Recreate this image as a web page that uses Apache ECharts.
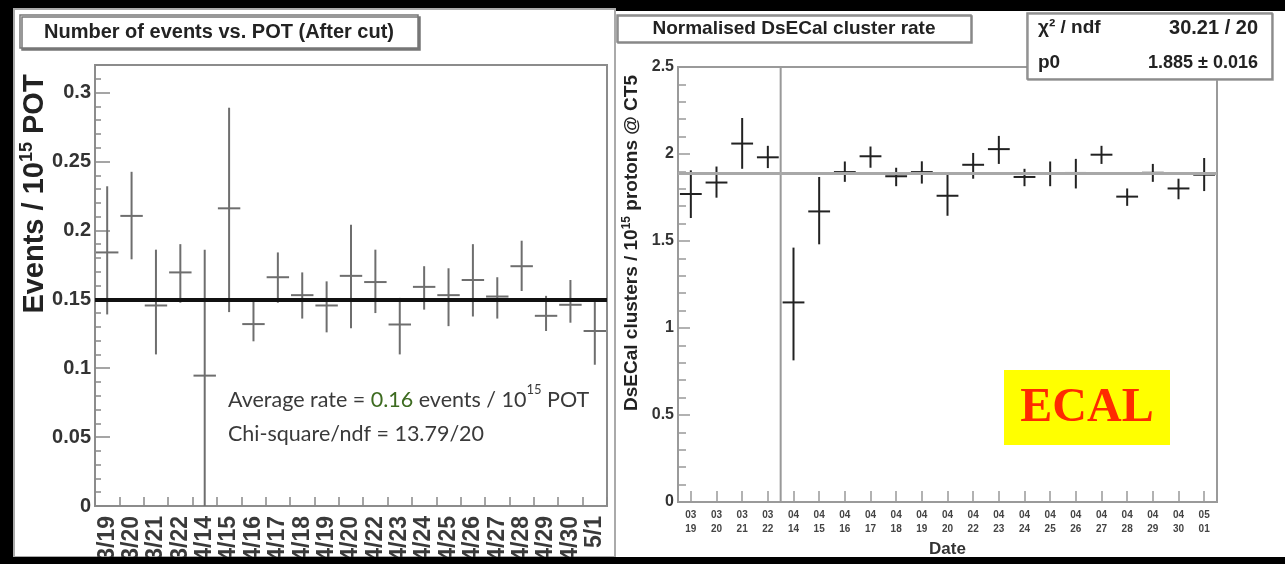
<!DOCTYPE html>
<html>
<head>
<meta charset="utf-8">
<script src="https://cdn.jsdelivr.net/npm/echarts@6.0.0/dist/echarts.min.js"></script>
<style>
  html, body { margin: 0; padding: 0; background: #000; }
  #chart { width: 1285px; height: 564px; }
</style>
</head>
<body>
<div id="chart"></div>
<script>
// Left panel: number of events per 10^15 POT, after cut
const leftDates = ['3/19', '3/20', '3/21', '3/22', '4/14', '4/15', '4/16', '4/17', '4/18', '4/19', '4/20',
  '4/22', '4/23', '4/24', '4/25', '4/26', '4/27', '4/28', '4/29', '4/30', '5/1']
const leftRate = [0.184, 0.2105, 0.1455, 0.1695, 0.0946, 0.216, 0.132, 0.166, 0.153, 0.1455, 0.167,
  0.1625, 0.1317, 0.159, 0.153, 0.164, 0.152, 0.174, 0.138, 0.146, 0.127]
const leftLow = [0.139, 0.179, 0.110, 0.1475, 0, 0.1407, 0.1195, 0.1475, 0.136, 0.126, 0.129,
  0.140, 0.110, 0.1425, 0.1305, 0.1375, 0.136, 0.156, 0.127, 0.133, 0.1025]
const leftHigh = [0.232, 0.2425, 0.186, 0.190, 0.186, 0.289, 0.149, 0.184, 0.1695, 0.163, 0.204,
  0.186, 0.151, 0.174, 0.1725, 0.190, 0.166, 0.1925, 0.1525, 0.164, 0.148]
const leftFit = 0.154
const leftYTicks = [0, 0.05, 0.1, 0.15, 0.2, 0.25, 0.3]

// Right panel: normalised DsECal cluster rate
const rightDates = ['03\n19', '03\n20', '03\n21', '03\n22', '04\n14', '04\n15', '04\n16', '04\n17', '04\n18',
  '04\n19', '04\n20', '04\n22', '04\n23', '04\n24', '04\n25', '04\n26', '04\n27', '04\n28', '04\n29',
  '04\n30', '05\n01']
const rightRate = [1.770, 1.836, 2.060, 1.981, 1.147, 1.670, 1.896, 1.987, 1.872, 1.896, 1.760,
  1.938, 2.028, 1.868, 1.887, 1.891, 1.996, 1.755, 1.892, 1.802, 1.881]
const rightLow = [1.632, 1.749, 1.915, 1.919, 0.814, 1.481, 1.840, 1.921, 1.815, 1.830, 1.645,
  1.858, 1.943, 1.815, 1.815, 1.802, 1.943, 1.702, 1.840, 1.740, 1.787]
const rightHigh = [1.906, 1.928, 2.207, 2.047, 1.462, 1.868, 1.957, 2.043, 1.921, 1.958, 1.883,
  2.006, 2.104, 1.915, 1.957, 1.972, 2.047, 1.802, 1.943, 1.858, 1.977]
const rightFit = 1.885
const rightYMax = 2.5

const chart = echarts.init( document.getElementById( 'chart' ) )

// cross = horizontal bin bar at the value + vertical error bar
const errorCross = ( color, width, frac ) => ( params, api ) => {
  const x = api.value( 0 )
  const c = api.coord( [x, api.value( 1 )] )
  const lo = api.coord( [x, api.value( 2 )] )
  const hi = api.coord( [x, api.value( 3 )] )
  const half = api.size( [1, 0] )[0] * frac / 2
  const style = { stroke : color, lineWidth : width }
  return {
    type : 'group',
    children : [
      { type : 'line', shape : { x1 : c[0] - half, y1 : c[1], x2 : c[0] + half, y2 : c[1] }, style },
      { type : 'line', shape : { x1 : lo[0], y1 : lo[1], x2 : hi[0], y2 : hi[1] }, style }
    ]
  }
}

const leftData = leftDates.map( ( d, i ) => [i, leftRate[i], leftLow[i], leftHigh[i]] )
const rightData = rightDates.map( ( d, i ) => [i, rightRate[i], rightLow[i], rightHigh[i]] )
const gapBin = rightDates.findIndex( d => d.startsWith( '04' ) )

const boldFont = 'Liberation Sans, Arial, sans-serif'

chart.setOption( {
  backgroundColor : '#000',
  animation : false,
  grid : [
    { left : 95, top : 65, width : 512, height : 441, show : true, backgroundColor : '#fff', borderColor : '#8c8c8c', borderWidth : 2 },
    { left : 678, top : 67, width : 539, height : 435, show : true, backgroundColor : '#fff', borderColor : '#9a9a9a', borderWidth : 2 }
  ],
  xAxis : [
    {
      gridIndex : 0,
      type : 'category',
      data : leftDates,
      boundaryGap : true,
      axisLine : { show : false },
      axisTick : { show : true, inside : true, length : 9, interval : 0, lineStyle : { color : '#888', width : 1.5 } },
      axisLabel : {
        interval : 0, rotate : 90, margin : 10,
        fontFamily : boldFont, fontWeight : 'bold', fontSize : 23, color : '#3a3a3a'
      },
      splitLine : { show : false }
    },
    {
      gridIndex : 1,
      type : 'category',
      data : rightDates,
      boundaryGap : true,
      name : 'Date',
      nameLocation : 'middle',
      nameGap : 34,
      nameTextStyle : { fontFamily : boldFont, fontWeight : 'bold', fontSize : 17, color : '#333' },
      axisLine : { show : false },
      axisTick : { show : true, inside : true, alignWithLabel : true, interval : 0, length : 11, lineStyle : { color : '#999', width : 1.5 } },
      axisLabel : {
        interval : 0, margin : 6, lineHeight : 14,
        fontFamily : boldFont, fontWeight : 'bold', fontSize : 10, color : '#444'
      },
      splitLine : { show : false }
    },
    { gridIndex : 1, type : 'value', min : 0, max : rightDates.length, show : false }
  ],
  yAxis : [
    {
      gridIndex : 0,
      type : 'value',
      min : 0,
      max : 0.32,
      interval : 0.05,
      axisLine : { show : false },
      axisTick : { show : true, inside : true, length : 15, lineStyle : { color : '#888', width : 1.5 } },
      minorTick : { show : true, splitNumber : 5, length : 6, lineStyle : { color : '#888', width : 1.5 } },
      splitLine : { show : false },
      axisLabel : {
        margin : 4,
        fontFamily : boldFont, fontWeight : 'bold', fontSize : 20, color : '#333',
        formatter : v => {
          const hit = leftYTicks.find( t => Math.abs( t - v ) < 1e-6 )
          return hit === undefined ? '' : String( hit )
        }
      }
    },
    {
      gridIndex : 1,
      type : 'value',
      min : 0,
      max : rightYMax,
      interval : 0.5,
      axisLine : { show : false },
      axisTick : { show : true, inside : true, length : 12, lineStyle : { color : '#999', width : 1.5 } },
      minorTick : { show : true, splitNumber : 5, length : 8, lineStyle : { color : '#999', width : 1.5 } },
      splitLine : { show : false },
      axisLabel : {
        margin : 4,
        fontFamily : boldFont, fontWeight : 'bold', fontSize : 16, color : '#333'
      }
    }
  ],
  series : [
    {
      type : 'custom',
      xAxisIndex : 0,
      yAxisIndex : 0,
      data : leftData,
      encode : { x : 0, y : [1, 2, 3] },
      renderItem : errorCross( '#6e6e6e', 2, 0.92 ),
      markLine : {
        silent : true,
        symbol : 'none',
        label : { show : false },
        lineStyle : { color : '#111', width : 4, type : 'solid' },
        data : [{ yAxis : leftFit }]
      }
    },
    {
      type : 'custom',
      xAxisIndex : 1,
      yAxisIndex : 1,
      data : rightData,
      encode : { x : 0, y : [1, 2, 3] },
      renderItem : errorCross( '#222', 2, 0.85 ),
      markLine : {
        silent : true,
        symbol : 'none',
        label : { show : false },
        lineStyle : { color : '#a8a8a8', width : 3, type : 'solid' },
        data : [{ yAxis : rightFit }]
      }
    },
    {
      type : 'line',
      xAxisIndex : 2,
      yAxisIndex : 1,
      symbol : 'none',
      silent : true,
      lineStyle : { color : '#999', width : 2 },
      data : [[gapBin, 0], [gapBin, rightYMax]]
    }
  ],
  graphic : [
    // panel backgrounds
    { type : 'rect', z : -10, shape : { x : 14, y : 9, width : 601, height : 548 }, style : { fill : '#fff', stroke : '#aaa', lineWidth : 2 } },
    { type : 'rect', z : -10, shape : { x : 616, y : 11, width : 669, height : 546 }, style : { fill : '#fff' } },

    // left title box
    {
      type : 'rect', z : 10,
      shape : { x : 20, y : 15, width : 398, height : 33 },
      style : { fill : '#fff', stroke : '#777', lineWidth : 1.5, shadowColor : '#777', shadowOffsetX : 2, shadowOffsetY : 2 }
    },
    {
      type : 'text', z : 11, x : 219, y : 32,
      style : { text : 'Number of events vs. POT (After cut)', fontFamily : boldFont, fontWeight : 'bold', fontSize : 20, fill : '#222', align : 'center', verticalAlign : 'middle' }
    },

    // left y title
    {
      type : 'text', z : 11, x : 35, y : 194, rotation : Math.PI / 2,
      style : {
        text : '{m|Events / 10}{s|15}{m| POT}',
        align : 'center', verticalAlign : 'middle',
        rich : {
          m : { fontFamily : boldFont, fontWeight : 'bold', fontSize : 29, fill : '#222', lineHeight : 34 },
          s : { fontFamily : boldFont, fontWeight : 'bold', fontSize : 18, fill : '#222', verticalAlign : 'top' }
        }
      }
    },

    // left annotation
    {
      type : 'text', z : 11, x : 228, y : 417,
      style : {
        text : '{t|Average rate = }{g|0.16}{t| events / 10}{s|15}{t| POT}\n{t|Chi-square/ndf = 13.79/20}',
        verticalAlign : 'middle',
        rich : {
          t : { fontFamily : 'Lato', fontSize : 21.5, fill : '#3a3a3a', lineHeight : 34 },
          g : { fontFamily : 'Lato', fontSize : 21.5, fill : '#3d6b20', lineHeight : 34 },
          s : { fontFamily : 'Lato', fontSize : 13, fill : '#3a3a3a', verticalAlign : 'top' }
        }
      }
    },

    // right title box
    {
      type : 'rect', z : 10,
      shape : { x : 617, y : 15, width : 354, height : 27 },
      style : { fill : '#fff', stroke : '#888', lineWidth : 1.5, shadowColor : '#888', shadowOffsetX : 1, shadowOffsetY : 1 }
    },
    {
      type : 'text', z : 11, x : 794, y : 29,
      style : { text : 'Normalised DsECal cluster rate', fontFamily : boldFont, fontWeight : 'bold', fontSize : 19, fill : '#222', align : 'center', verticalAlign : 'middle' }
    },

    // stats box
    {
      type : 'rect', z : 10,
      shape : { x : 1027, y : 13, width : 245, height : 66 },
      style : { fill : '#fff', stroke : '#888', lineWidth : 1.5, shadowColor : '#999', shadowOffsetX : 1, shadowOffsetY : 1 }
    },
    {
      type : 'text', z : 11, x : 1038, y : 28,
      style : { text : 'χ² / ndf', fontFamily : boldFont, fontWeight : 'bold', fontSize : 19, fill : '#222', verticalAlign : 'middle' }
    },
    {
      type : 'text', z : 11, x : 1258, y : 28,
      style : { text : '30.21 / 20', fontFamily : boldFont, fontWeight : 'bold', fontSize : 20, fill : '#222', align : 'right', verticalAlign : 'middle' }
    },
    {
      type : 'text', z : 11, x : 1038, y : 63,
      style : { text : 'p0', fontFamily : boldFont, fontWeight : 'bold', fontSize : 19, fill : '#222', verticalAlign : 'middle' }
    },
    {
      type : 'text', z : 11, x : 1258, y : 63,
      style : { text : '1.885 ± 0.016', fontFamily : boldFont, fontWeight : 'bold', fontSize : 18, fill : '#222', align : 'right', verticalAlign : 'middle' }
    },

    // right y title
    {
      type : 'text', z : 11, x : 632, y : 243, rotation : Math.PI / 2,
      style : {
        text : '{m|DsECal clusters / 10}{s|15}{m| protons @ CT5}',
        align : 'center', verticalAlign : 'middle',
        rich : {
          m : { fontFamily : boldFont, fontWeight : 'bold', fontSize : 19, fill : '#222', lineHeight : 22 },
          s : { fontFamily : boldFont, fontWeight : 'bold', fontSize : 12, fill : '#222', verticalAlign : 'top' }
        }
      }
    },

    // ECAL tag
    { type : 'rect', z : 10, shape : { x : 1004, y : 370, width : 166, height : 75 }, style : { fill : '#ffff00' } },
    {
      type : 'text', z : 11, x : 1087, y : 409,
      style : { text : 'ECAL', fontFamily : 'Liberation Serif, Times New Roman, serif', fontWeight : 'bold', fontSize : 48, fill : '#ff2a00', align : 'center', verticalAlign : 'middle' }
    },

    // black band that crops the rotated date labels
    { type : 'rect', z : 100, shape : { x : 0, y : 557, width : 1285, height : 7 }, style : { fill : '#000' } }
  ]
} )

window.addEventListener( 'resize', () => chart.resize() )
</script>
</body>
</html>
